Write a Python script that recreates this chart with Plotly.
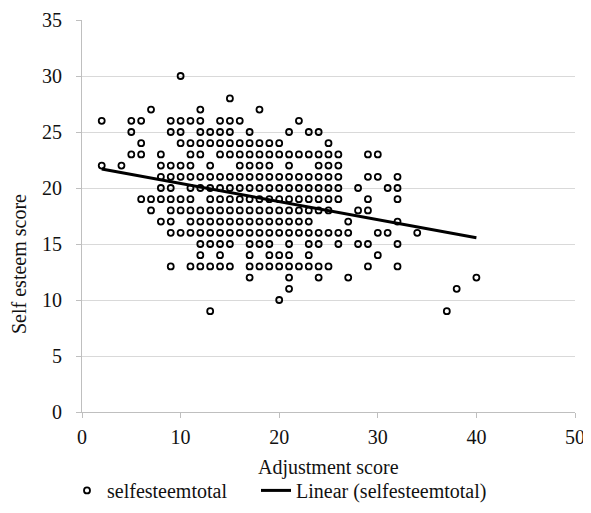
import plotly.graph_objects as go

# Self esteem score levels and the adjustment scores observed at each level
self_esteem_levels = [30, 28, 27, 26, 25, 24, 23, 22, 21, 20, 19, 18, 17, 16, 15, 14, 13, 12, 11, 10, 9]
adjustment_at_level = [
    [10],
    [15],
    [7, 12, 18],
    [2, 5, 6, 9, 10, 11, 12, 14, 15, 16, 22],
    [5, 9, 10, 12, 13, 14, 15, 17, 21, 23, 24],
    [6, 10, 11, 12, 13, 14, 15, 16, 17, 18, 19, 20, 25],
    [5, 6, 8, 11, 12, 14, 15, 16, 17, 18, 19, 20, 21, 22, 23, 24, 25, 26, 29, 30],
    [2, 4, 8, 9, 10, 11, 13, 16, 17, 18, 19, 21, 24, 25, 26],
    [8, 9, 10, 11, 12, 13, 14, 15, 16, 17, 18, 19, 20, 21, 22, 23, 24, 25, 26, 29, 30, 32],
    [8, 9, 11, 12, 13, 14, 15, 16, 17, 18, 19, 20, 21, 22, 23, 24, 25, 26, 28, 31, 32],
    [6, 7, 8, 9, 10, 11, 13, 14, 15, 16, 17, 18, 19, 20, 21, 22, 23, 24, 25, 26, 29, 32],
    [7, 9, 10, 11, 12, 13, 14, 15, 16, 17, 18, 19, 20, 21, 22, 23, 24, 25, 28, 29],
    [8, 9, 11, 12, 13, 14, 15, 16, 17, 18, 19, 20, 21, 22, 23, 27, 32],
    [9, 10, 11, 12, 13, 14, 15, 16, 17, 18, 19, 20, 21, 22, 23, 24, 25, 26, 27, 30, 31, 34],
    [12, 13, 14, 15, 17, 18, 19, 21, 23, 24, 26, 28, 29, 32],
    [12, 14, 17, 19, 20, 21, 23, 30],
    [9, 11, 12, 13, 14, 15, 17, 18, 19, 20, 21, 22, 23, 24, 25, 29, 32],
    [17, 21, 24, 27, 40],
    [21, 38],
    [20],
    [13, 37],
]

# Linear trendline coefficients
trend_intercept = 22.02
trend_slope = -0.1616

x_ticks = [0, 10, 20, 30, 40, 50]
y_ticks = [0, 5, 10, 15, 20, 25, 30, 35]

adjustment = []
selfesteem = []
for lvl, xs in zip(self_esteem_levels, adjustment_at_level):
    for xv in xs:
        adjustment.append(xv)
        selfesteem.append(lvl)

x_min, x_max = min(adjustment), max(adjustment)
trend_x = [x_min, x_max]
trend_y = [trend_intercept + trend_slope * v for v in trend_x]

FONT = "Liberation Serif"
TXT = "#111111"
FS = 20

fig = go.Figure()
fig.add_trace(go.Scatter(
    x=adjustment, y=selfesteem, mode="markers", name="selfesteemtotal", legend="legend",
    marker=dict(symbol="circle-open", size=6, color="black", line=dict(width=1.8, color="black")),
))
fig.add_trace(go.Scatter(
    x=trend_x, y=trend_y, mode="lines", name="Linear (selfesteemtotal)", legend="legend2",
    line=dict(color="black", width=3),
))

legend_common = dict(orientation="h", xanchor="left", y=-0.2, yanchor="middle",
                     font=dict(family=FONT, size=FS, color=TXT), itemclick=False,
                     bgcolor="rgba(0,0,0,0)")

# page body adds an 8px offset, so the figure is 8px smaller and margins shifted
fig.update_layout(
    width=583, height=505,
    margin=dict(l=74, r=16, t=12, b=101, autoexpand=False),
    plot_bgcolor="white", paper_bgcolor="white",
    font=dict(family=FONT, size=FS, color=TXT),
    showlegend=True,
    legend=dict(x=(67 - 82) / 493, **legend_common),
    legend2=dict(x=(256 - 82) / 493, **legend_common),
    xaxis=dict(range=[0, 50], tickvals=x_ticks, showgrid=False, zeroline=False, automargin=False,
               showline=True, linecolor="#bfbfbf", linewidth=1,
               ticks="outside", ticklen=5, tickcolor="#bfbfbf", ticklabelstandoff=2),
    yaxis=dict(range=[0, 35], tickvals=y_ticks, showgrid=True, gridcolor="#d9d9d9", gridwidth=1,
               zeroline=False, showline=True, linecolor="#bfbfbf", linewidth=1, automargin=False,
               ticks="outside", ticklen=5, tickcolor="#bfbfbf", ticklabelstandoff=10),
    annotations=[
        dict(text="Adjustment score", xref="paper", yref="paper", x=0.5, y=(412 - 467) / 392,
             xanchor="center", yanchor="middle", showarrow=False, font=dict(family=FONT, size=FS, color=TXT)),
        dict(text="Self esteem score", xref="paper", yref="paper", x=(19 - 82) / 493, y=(412 - 264) / 392,
             xanchor="center", yanchor="middle", textangle=-90, showarrow=False,
             font=dict(family=FONT, size=FS, color=TXT)),
    ],
)

fig.write_html("out.html")
